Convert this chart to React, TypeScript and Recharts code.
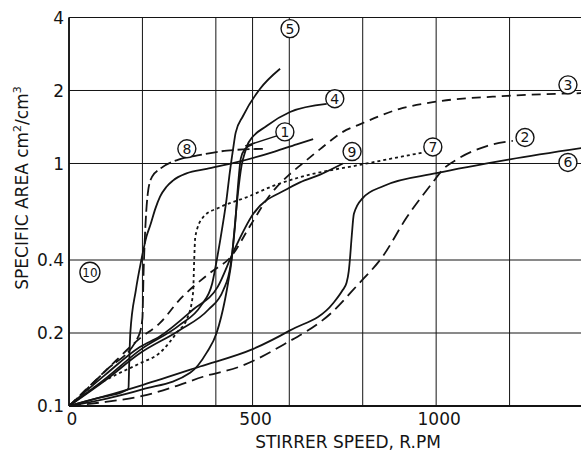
import { LineChart, Line, XAxis, YAxis, CartesianGrid, ReferenceDot, ReferenceLine } from 'recharts';

// stirrer speed (rpm) / specific area (cm2/cm3), one pair per curve
const rpm1 = [0, 100, 193, 300, 380, 420, 440, 452, 460, 468, 480, 500];
const area1 = [0.1, 0.128, 0.165, 0.205, 0.25, 0.3, 0.38, 0.55, 0.8, 1.05, 1.15, 1.2];

const rpm2 = [0, 100, 200, 300, 365, 466, 584, 719, 783, 855, 920, 991, 1019, 1057, 1138, 1209];
const area2 = [0.1, 0.104, 0.11, 0.122, 0.132, 0.1455, 0.179, 0.2456, 0.312, 0.415, 0.6, 0.837, 0.947, 1.04, 1.18, 1.24];

const rpm3 = [0, 100, 193, 248, 302, 384, 443, 493, 547, 600, 629, 684, 746, 792, 901, 991, 1193, 1400];
const area3 = [0.1, 0.14, 0.19, 0.22, 0.275, 0.354, 0.416, 0.552, 0.74, 0.9, 0.98, 1.146, 1.35, 1.45, 1.68, 1.79, 1.9, 1.95];

const rpm4 = [0, 100, 200, 330, 375, 402, 425, 433, 443, 450, 460, 470, 480, 489, 539, 602, 702];
const area4 = [0.1, 0.107, 0.117, 0.137, 0.166, 0.2, 0.275, 0.32, 0.4, 0.52, 0.75, 0.98, 1.12, 1.22, 1.43, 1.63, 1.76];

const rpm5 = [0, 100, 193, 300, 360, 390, 405, 418, 429, 438, 447, 454, 474, 520, 575];
const area5 = [0.1, 0.13, 0.17, 0.215, 0.26, 0.32, 0.42, 0.55, 0.71, 0.92, 1.15, 1.34, 1.57, 2.03, 2.46];

const rpm6 = [0, 100, 200, 357, 502, 602, 720, 745, 756, 762, 765, 770, 776, 800, 857, 1001, 1201, 1400];
const area6 = [0.1, 0.11, 0.122, 0.1455, 0.172, 0.205, 0.266, 0.3, 0.322, 0.36, 0.4, 0.5, 0.62, 0.72, 0.808, 0.912, 1.04, 1.16];

const rpm7 = [0, 93, 193, 248, 293, 324, 338, 341, 344, 365, 411, 484, 556, 629, 792, 964];
const area7 = [0.1, 0.126, 0.15, 0.166, 0.2, 0.234, 0.294, 0.4, 0.5, 0.6, 0.66, 0.726, 0.808, 0.878, 0.987, 1.11];

const rpm8 = [0, 100, 190, 200, 203, 206, 210, 216, 226, 248, 300, 350, 430, 528];
const area8 = [0.1, 0.14, 0.195, 0.23, 0.35, 0.47, 0.62, 0.78, 0.88, 0.95, 1.04, 1.08, 1.13, 1.15];

const rpm9 = [0, 100, 193, 248, 338, 405, 447, 501, 593, 629, 684, 746];
const area9 = [0.1, 0.135, 0.175, 0.194, 0.25, 0.31, 0.43, 0.617, 0.783, 0.836, 0.9, 1.0];

const rpm10 = [0, 80, 150, 162, 164, 167, 182, 197, 211, 222, 235, 248, 265, 283, 320, 375, 466, 560, 620, 665];
const area10 = [0.1, 0.108, 0.115, 0.118, 0.15, 0.2, 0.3, 0.4, 0.5, 0.56, 0.65, 0.73, 0.8, 0.85, 0.91, 0.95, 1.02, 1.12, 1.2, 1.26];

// circled curve numbers
const labelIds = ['1', '2', '3', '4', '5', '6', '7', '8', '9', '10'];
const labelRpm = [588, 1242, 1359, 724, 602, 1359, 991, 321, 771, 57];
const labelArea = [1.35, 1.28, 2.11, 1.85, 3.6, 1.01, 1.17, 1.15, 1.12, 0.356];

const xTicks = [0, 200, 400, 500, 600, 800, 1000, 1200, 1400];
const xTickLabels = [0, 500, 1000];
const yTicks = [0.1, 0.2, 0.4, 1, 2, 4];

const zip = (xs: number[], ys: number[]) => xs.map((x, i) => ({ rpm: x, area: ys[i] }));

const curves = [
  { id: '1', data: zip(rpm1, area1), dash: undefined },
  { id: '2', data: zip(rpm2, area2), dash: '12 6' },
  { id: '3', data: zip(rpm3, area3), dash: '9 6' },
  { id: '4', data: zip(rpm4, area4), dash: undefined },
  { id: '5', data: zip(rpm5, area5), dash: undefined },
  { id: '6', data: zip(rpm6, area6), dash: undefined },
  { id: '7', data: zip(rpm7, area7), dash: '3 3' },
  { id: '8', data: zip(rpm8, area8), dash: '12 4' },
  { id: '9', data: zip(rpm9, area9), dash: undefined },
  { id: '10', data: zip(rpm10, area10), dash: undefined },
];

const INK = '#141414';
const FONT = '"DejaVu Sans", "Liberation Sans", sans-serif';

export default function App() {
  return (
    <div style={{ position: 'fixed', left: 0, top: 0, width: 581, height: 452, overflow: 'hidden', background: '#fff' }}>
      <LineChart width={600} height={452} margin={{ top: 17.5, right: 17, bottom: 0, left: 0 }}>
        <CartesianGrid stroke={INK} strokeWidth={1} />
        <XAxis
          dataKey="rpm"
          type="number"
          domain={[0, 1400]}
          ticks={xTicks}
          interval={0}
          allowDataOverflow
          height={46}
          stroke={INK}
          strokeWidth={1.8}
          tickLine={false}
          tickSize={0}
          tickMargin={7}
          tickFormatter={(v: number) => (xTickLabels.includes(v) ? String(v) : '')}
          tick={{ fill: INK, fontSize: 17, fontFamily: FONT, dx: 3 }}
          label={{
            content: () => (
              <text x={348} y={448} textAnchor="middle" fill={INK} fontSize={17} fontFamily={FONT}>
                STIRRER SPEED, R.PM
              </text>
            ),
          }}
        />
        <YAxis
          scale="log"
          domain={[0.1, 4]}
          ticks={yTicks}
          interval={0}
          allowDataOverflow
          width={69}
          stroke={INK}
          strokeWidth={1.8}
          tickLine={false}
          tickSize={0}
          tickMargin={5}
          tickFormatter={(v: number) => String(v)}
          tick={{ fill: INK, fontSize: 17, fontFamily: FONT }}
          label={{
            content: () => (
              <text transform="translate(28,188) rotate(-90)" textAnchor="middle" fill={INK} fontSize={17} fontFamily={FONT}>
                SPECIFIC AREA cm<tspan fontSize={11} dy={-7}>2</tspan>
                <tspan dy={7}>/cm</tspan>
                <tspan fontSize={11} dy={-7}>3</tspan>
              </text>
            ),
          }}
        />
        {curves.map((c) => (
          <Line
            key={c.id}
            data={c.data}
            dataKey="area"
            type="monotone"
            dot={false}
            stroke={INK}
            strokeWidth={1.8}
            strokeDasharray={c.dash}
            isAnimationActive={false}
          />
        ))}
        <ReferenceLine segment={[{ x: 566, y: 1.3 }, { x: 480, y: 1.18 }]} stroke={INK} strokeWidth={1.5} />
        {labelIds.map((id, i) => (
          <ReferenceDot
            key={id}
            x={labelRpm[i]}
            y={labelArea[i]}
            r={id === '10' ? 10 : 9}
            fill="#fff"
            stroke={INK}
            strokeWidth={1.4}
            label={{ value: id, position: 'center', fill: INK, fontSize: id === '10' ? 12 : 14, fontFamily: FONT }}
          />
        ))}
      </LineChart>
    </div>
  );
}
